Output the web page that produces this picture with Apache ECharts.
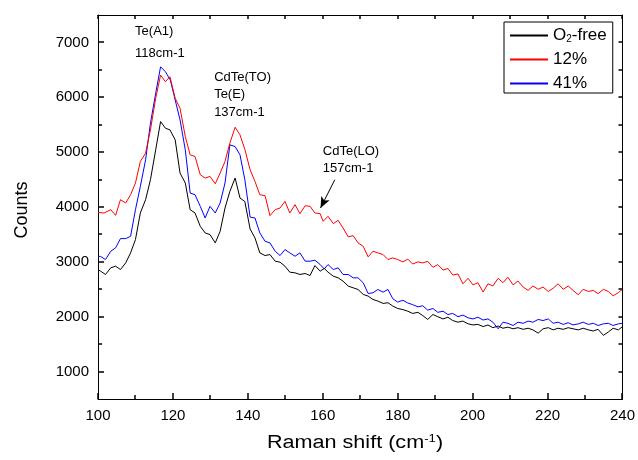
<!DOCTYPE html>
<html>
<head>
<meta charset="utf-8">
<script src="https://cdn.jsdelivr.net/npm/echarts@6/dist/echarts.min.js"></script>
<style>
  html, body { margin: 0; padding: 0; background: #fff; }
  #chart { width: 638px; height: 460px; }
</style>
</head>
<body>
<div id="chart"></div>
<script>
// Raman spectra of CdTe films grown with different O2 fractions: [shift (cm-1), counts]
const seriesNames = ['O2-free', '12%', '41%'];

const o2FreeSpectrum = [
  [100, 2860], [100.7, 2830], [102.0, 2770], [103.4, 2891], [104.7, 2921], [106.0, 2860],
  [107.4, 2982], [108.7, 3164], [110.0, 3406], [111.3, 3891], [112.7, 4133], [114.0, 4497],
  [115.4, 5042], [116.7, 5557], [118.0, 5436], [119.2, 5406], [120.6, 5224], [121.9, 4618],
  [123.3, 4437], [124.6, 3951], [125.9, 3891], [127.3, 3648], [128.6, 3527], [129.9, 3497],
  [131.3, 3346], [132.6, 3557], [133.9, 3982], [135.2, 4284], [136.6, 4528], [137.9, 4164],
  [139.2, 4100], [140.6, 3600], [141.9, 3436], [143.2, 3164], [144.6, 3115], [145.9, 3133],
  [147.3, 3012], [148.6, 2994], [149.9, 2921], [151.2, 2812], [152.6, 2800], [153.9, 2770],
  [155.3, 2788], [156.6, 2751], [157.9, 2933], [159.3, 2830], [160.4, 2880], [161.4, 2812],
  [162.8, 2739], [164.1, 2709], [165.4, 2648], [166.8, 2558], [168.1, 2527], [169.4, 2497],
  [170.8, 2406], [172.1, 2376], [173.4, 2315], [174.7, 2285], [176.1, 2242], [177.4, 2255],
  [178.7, 2194], [180.0, 2150], [181.4, 2130], [182.7, 2100], [184.0, 2060], [185.4, 2080],
  [186.7, 2020], [188.0, 1950], [189.4, 2040], [190.7, 2000], [192.1, 1960], [193.4, 1990],
  [194.7, 1930], [196.1, 1900], [197.4, 1920], [198.8, 1870], [200.1, 1850], [201.4, 1860],
  [202.8, 1820], [204.1, 1850], [205.4, 1800], [206.8, 1830], [208.1, 1790], [209.4, 1810],
  [210.8, 1780], [212.1, 1800], [213.5, 1770], [214.8, 1790], [216.1, 1760], [217.5, 1700],
  [218.8, 1780], [220.2, 1800], [221.5, 1760], [222.8, 1790], [224.2, 1770], [225.5, 1800],
  [226.8, 1780], [228.2, 1760], [229.5, 1790], [230.9, 1760], [232.2, 1740], [233.5, 1770],
  [234.9, 1660], [236.2, 1720], [237.5, 1790], [238.9, 1760], [240, 1820]
];

const o2TwelveSpectrum = [
  [100, 3902], [101.6, 3890], [103.4, 3951], [104.7, 3848], [106.0, 4133], [107.4, 4073],
  [108.7, 4224], [110.0, 4437], [111.3, 4830], [112.7, 4982], [114.0, 5406], [115.4, 5982],
  [116.7, 6405], [118.0, 6284], [119.2, 6375], [120.6, 5982], [121.9, 5800], [123.3, 5284],
  [124.6, 4951], [125.9, 4921], [127.3, 4588], [128.6, 4528], [129.9, 4557], [131.3, 4424],
  [132.6, 4618], [133.9, 4830], [135.2, 5164], [136.6, 5454], [137.9, 5315], [139.2, 5050],
  [140.6, 4679], [141.9, 4466], [143.2, 4224], [144.6, 4206], [145.9, 3842], [147.3, 3951],
  [148.6, 3982], [149.9, 4103], [151.2, 3891], [152.6, 4042], [153.9, 3878], [155.3, 4024],
  [156.6, 4012], [157.9, 3891], [159.3, 3878], [160.1, 3739], [161.4, 3830], [162.8, 3697],
  [164.1, 3757], [165.4, 3618], [166.8, 3455], [168.1, 3479], [169.4, 3346], [170.8, 3284],
  [172.1, 3091], [173.4, 3193], [174.7, 3164], [176.1, 3133], [177.4, 3042], [178.7, 3073],
  [180.0, 3042], [181.4, 3000], [182.7, 3050], [184.0, 2960], [185.4, 3000], [186.7, 2980],
  [188.0, 3010], [189.4, 2900], [190.7, 2950], [192.1, 2850], [193.4, 2880], [194.7, 2760],
  [196.1, 2780], [197.4, 2600], [198.8, 2700], [200.1, 2580], [201.4, 2620], [202.8, 2450],
  [204.1, 2600], [205.4, 2560], [206.8, 2700], [208.1, 2620], [209.4, 2720], [210.8, 2580],
  [212.1, 2650], [213.5, 2540], [214.8, 2480], [216.1, 2560], [217.5, 2500], [218.8, 2540],
  [220.2, 2460], [221.5, 2520], [222.8, 2600], [224.2, 2500], [225.5, 2560], [226.8, 2480],
  [228.2, 2400], [229.5, 2500], [230.9, 2460], [232.2, 2480], [233.5, 2420], [234.9, 2500],
  [236.2, 2460], [237.5, 2380], [238.9, 2440], [240, 2500]
];

const o2FortyOneSpectrum = [
  [100, 3102], [100.7, 3098], [102.0, 3042], [103.4, 3193], [104.7, 3255], [106.0, 3424],
  [107.4, 3424], [108.7, 3466], [110.0, 3951], [111.3, 4375], [112.7, 4860], [114.0, 5527],
  [115.4, 6073], [116.7, 6556], [118.0, 6466], [119.3, 6315], [120.6, 5951], [121.9, 5588],
  [123.3, 5042], [124.6, 4255], [125.9, 4224], [127.3, 4012], [128.6, 3800], [129.9, 4012],
  [131.3, 3891], [132.6, 4073], [133.9, 4437], [135.2, 5133], [136.6, 5102], [137.9, 4951],
  [139.2, 4497], [140.6, 3815], [141.9, 3800], [143.2, 3527], [144.6, 3375], [145.9, 3346],
  [147.3, 3193], [148.6, 3115], [149.9, 3224], [151.2, 3164], [152.6, 3102], [153.9, 3164],
  [155.3, 3012], [156.6, 3012], [157.9, 3030], [159.3, 2951], [160.4, 2870], [161.4, 2951],
  [162.8, 2860], [164.1, 2891], [165.4, 2770], [166.8, 2770], [168.1, 2709], [169.4, 2709],
  [170.8, 2618], [172.1, 2424], [173.4, 2436], [174.7, 2497], [176.1, 2448], [177.4, 2497],
  [178.7, 2327], [180.0, 2267], [181.4, 2300], [182.7, 2250], [184.0, 2220], [185.4, 2180],
  [186.7, 2200], [188.0, 2120], [189.4, 2150], [190.7, 2080], [192.1, 2100], [193.4, 2040],
  [194.7, 2060], [196.1, 2000], [197.4, 2030], [198.8, 1980], [200.1, 1960], [201.4, 1990],
  [202.8, 1940], [204.1, 1960], [205.4, 1900], [206.8, 1780], [208.1, 1900], [209.4, 1880],
  [210.8, 1840], [212.1, 1900], [213.5, 1880], [214.8, 1920], [216.1, 1900], [217.5, 1950],
  [218.8, 1930], [220.2, 1960], [221.5, 1880], [222.8, 1900], [224.2, 1860], [225.5, 1890],
  [226.8, 1850], [228.2, 1870], [229.5, 1900], [230.9, 1860], [232.2, 1880], [233.5, 1840],
  [234.9, 1870], [236.2, 1880], [237.5, 1840], [238.9, 1870], [240, 1880]
];

// Axis ranges and tick positions
const xRange = [100, 240];
const xTickStep = 20;
const xMajorTicks = [100, 120, 140, 160, 180, 200, 220, 240];
const xMinorTicks = [110, 130, 150, 170, 190, 210, 230];
const yRange = [500, 7500];
const yMajorTicks = [1000, 2000, 3000, 4000, 5000, 6000, 7000];
const yMinorTicks = [1500, 2500, 3500, 4500, 5500, 6500];

// Peak annotations: [shift, counts at the block's vertical centre, lines of text]
const peakLabels = [
  [109.9, 7205, ['Te(A1)']],
  [109.9, 6805, ['118cm-1']],
  [131.0, 6051, ['CdTe(TO)', 'Te(E)', '137cm-1']],
  [160.0, 4856, ['CdTe(LO)', '157cm-1']]
];
// Arrow pointing at the LO shoulder: [from, to]
const loArrow = [[163.2, 4497], [159.4, 3982]];

const FONT = '"Liberation Sans", Arial, sans-serif';
const colors = ['#000000', '#ff0000', '#0000ff'];

// Frame tick marks, drawn on all four sides through the axes' own scales.
// kind: 0 = x major, 1 = x minor, 2 = y major, 3 = y minor
const frameTicks = []
  .concat(xMajorTicks.map(v => [0, v]))
  .concat(xMinorTicks.map(v => [1, v]))
  .concat(yMajorTicks.map(v => [2, v]))
  .concat(yMinorTicks.map(v => [3, v]));

const TICK_MAJOR = 6, TICK_MINOR = 4, TICK_MIRROR = 4;

function renderFrameTick(params, api) {
  const kind = api.value(0);
  const v = api.value(1);
  const cs = params.coordSys;
  const style = { stroke: '#000', lineWidth: 1.5 };
  const bottom = cs.y + cs.height, right = cs.x + cs.width;
  if (kind < 2) {
    const len = kind === 0 ? TICK_MAJOR : TICK_MINOR;
    const px = Math.round(api.coord([v, yRange[0]])[0]);
    return {
      type: 'group', children: [
        { type: 'line', shape: { x1: px, y1: bottom, x2: px, y2: bottom - len }, style },
        { type: 'line', shape: { x1: px, y1: cs.y, x2: px, y2: cs.y + TICK_MIRROR }, style }
      ]
    };
  }
  const len = kind === 2 ? TICK_MAJOR : TICK_MINOR;
  const py = Math.round(api.coord([xRange[0], v])[1]);
  return {
    type: 'group', children: [
      { type: 'line', shape: { x1: cs.x, y1: py, x2: cs.x + len, y2: py }, style },
      { type: 'line', shape: { x1: right, y1: py, x2: right - TICK_MIRROR, y2: py }, style }
    ]
  };
}

const chart = echarts.init(document.getElementById('chart'), null, { renderer: 'canvas' });

const frameLine = () => ({ show: true, onZero: false, lineStyle: { color: '#000', width: 1 } });

const option = {
  animation: false,
  backgroundColor: '#ffffff',
  grid: { left: 98, right: 15, top: 15, bottom: 61, containLabel: false },
  xAxis: [
    {
      type: 'value', position: 'bottom', min: xRange[0], max: xRange[1], interval: xTickStep,
      axisLine: frameLine(),
      axisTick: { show: false },
      splitLine: { show: false },
      axisLabel: { show: true, color: '#000', fontSize: 15, fontFamily: FONT, margin: 9 }
    },
    {
      type: 'value', position: 'top', min: xRange[0], max: xRange[1], interval: xTickStep,
      axisLine: frameLine(),
      axisTick: { show: false },
      splitLine: { show: false },
      axisLabel: { show: false }
    }
  ],
  yAxis: [
    {
      type: 'value', position: 'left', min: yRange[0], max: yRange[1], interval: 500,
      axisLine: frameLine(),
      axisTick: { show: false },
      splitLine: { show: false },
      axisLabel: {
        show: true, color: '#000', fontSize: 15, fontFamily: FONT, margin: 9,
        customValues: yMajorTicks, formatter: v => String(v)
      }
    },
    {
      type: 'value', position: 'right', min: yRange[0], max: yRange[1], interval: 500,
      axisLine: frameLine(),
      axisTick: { show: false },
      splitLine: { show: false },
      axisLabel: { show: false }
    }
  ],
  legend: {
    show: true,
    orient: 'vertical',
    left: 504, top: 22,
    padding: [4, 6, 0, 6],
    itemGap: 5,
    icon: 'rect',
    itemWidth: 38, itemHeight: 2,
    borderColor: '#000', borderWidth: 1,
    backgroundColor: '#fff',
    data: seriesNames.map((n, i) => ({ name: n, itemStyle: { color: colors[i] } })),
    textStyle: {
      color: '#000', fontSize: 17, fontFamily: FONT, lineHeight: 19,
      rich: {
        t: { fontSize: 17, fontFamily: FONT, color: '#000', lineHeight: 19 },
        s: { fontSize: 10, fontFamily: FONT, color: '#000', lineHeight: 19, padding: [8, 0, 0, 0] }
      }
    },
    formatter: n => n === 'O2-free' ? '{t|O}{s|2}{t|-free}' : '{t|' + n + '}'
  },
  series: [
    { name: seriesNames[0], data: o2FreeSpectrum },
    { name: seriesNames[1], data: o2TwelveSpectrum },
    { name: seriesNames[2], data: o2FortyOneSpectrum }
  ].map((s, i) => ({
    type: 'line',
    name: s.name,
    data: s.data,
    xAxisIndex: 0, yAxisIndex: 0,
    symbol: 'none', showSymbol: false,
    color: colors[i],
    lineStyle: { color: colors[i], width: 1 },
    itemStyle: { color: colors[i] },
    emphasis: { disabled: true },
    z: 3 - i
  })).concat([
    {
      type: 'custom', name: 'frame ticks', data: frameTicks,
      xAxisIndex: 0, yAxisIndex: 0,
      renderItem: renderFrameTick,
      clip: false, silent: true, z: 5
    },
    {
      type: 'line', name: 'annotations', data: [], xAxisIndex: 0, yAxisIndex: 0,
      silent: true,
      markPoint: {
        symbol: 'circle', symbolSize: 0,
        label: {
          show: true, position: 'right', distance: 0,
          color: '#000', fontSize: 13, fontFamily: FONT, lineHeight: 17.5, align: 'left',
          formatter: p => p.data.lines.join('\n')
        },
        data: peakLabels.map(p => ({ coord: [p[0], p[1]], lines: p[2] }))
      },
      markLine: {
        silent: true,
        symbol: ['none', 'arrow'], symbolSize: [7, 11],
        lineStyle: { color: '#000', width: 1, type: 'solid' },
        label: { show: false },
        data: [[{ coord: loArrow[0] }, { coord: loArrow[1] }]]
      }
    }
  ]),
  graphic: [
    {
      type: 'text', x: 355, y: 443, scaleX: 1.2,
      style: {
        text: '{t|Raman shift (cm}{s|-1}{t|)}',
        align: 'center', verticalAlign: 'middle',
        rich: {
          t: { fontSize: 18, fontFamily: FONT, fill: '#000' },
          s: { fontSize: 11, fontFamily: FONT, fill: '#000', padding: [0, 0, 9, 0] }
        }
      }
    },
    {
      type: 'text', x: 22, y: 210, rotation: Math.PI / 2,
      style: {
        text: 'Counts', fontSize: 18, fontFamily: FONT, fill: '#000',
        align: 'center', verticalAlign: 'middle'
      }
    }
  ]
};

chart.setOption(option);
</script>
</body>
</html>
